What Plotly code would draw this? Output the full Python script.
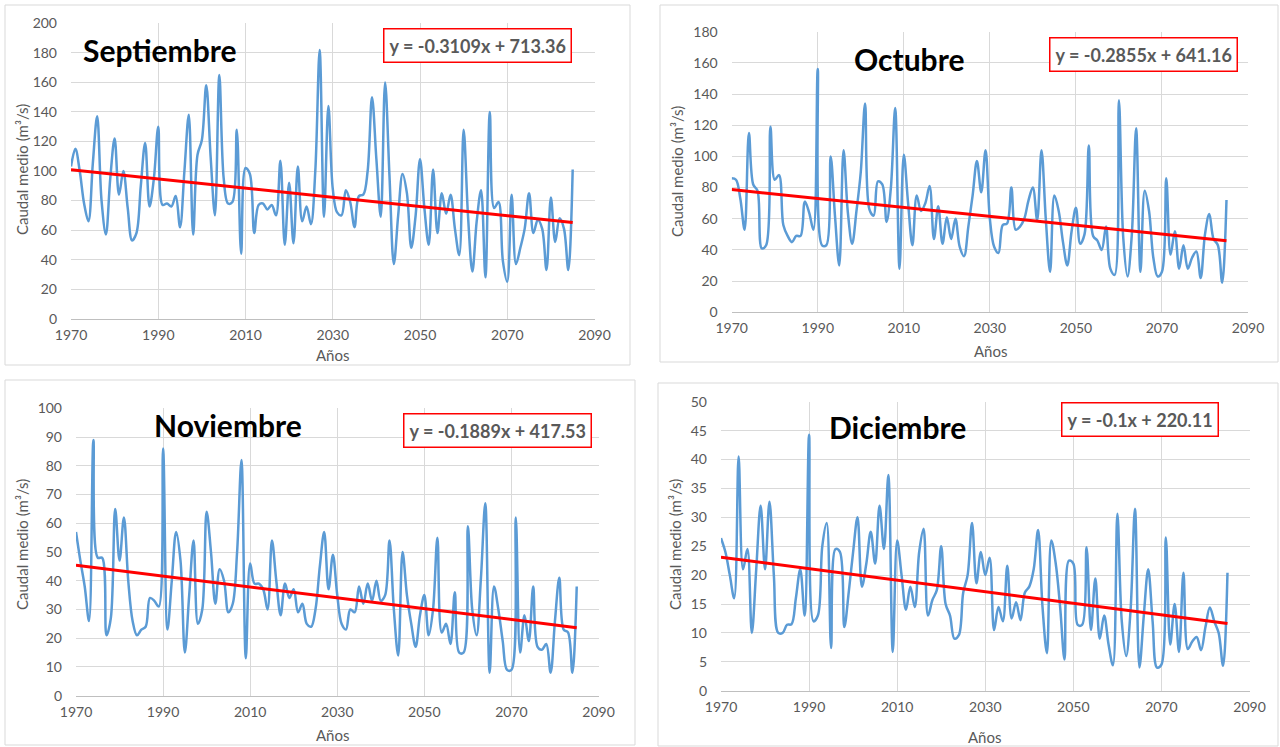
import plotly.graph_objects as go

W, H = 1280, 747

years = list(range(1970, 2086))

sep = [103, 115, 100, 78, 66, 105, 137, 80, 57, 95,
       122, 84, 100, 75, 53, 58, 90, 119, 76, 95,
       130, 77, 78, 76, 83, 62, 100, 138, 57, 111,
       121, 158, 110, 70, 165, 95, 78, 79, 128, 44,
       102, 98, 58, 77, 78, 74, 77, 70, 107, 50,
       92, 51, 103, 66, 76, 64, 100, 182, 69, 144,
       88, 72, 70, 87, 79, 62, 83, 84, 100, 150,
       108, 69, 160, 97, 37, 70, 98, 85, 48, 70,
       108, 75, 50, 101, 58, 85, 71, 84, 61, 43,
       128, 70, 32, 66, 87, 28, 140, 75, 79, 39,
       25, 84, 37, 48, 61, 85, 58, 67, 61, 33,
       82, 52, 68, 61, 33, 101]

octu = [86, 85, 73, 53, 115, 82, 78, 41, 43, 119,
        85, 88, 56, 49, 45, 49, 49, 71, 64, 53,
        156, 43, 43, 100, 62, 30, 104, 64, 44, 65,
        90, 134, 66, 62, 84, 82, 58, 80, 131, 28,
        101, 70, 43, 75, 65, 70, 81, 47, 68, 44,
        61, 47, 60, 42, 36, 55, 75, 97, 77, 104,
        60, 42, 38, 56, 57, 80, 53, 55, 60, 72,
        80, 59, 104, 60, 26, 75, 65, 45, 30, 52,
        67, 44, 50, 107, 49, 46, 40, 55, 28, 24,
        136, 48, 23, 50, 118, 26, 78, 65, 35, 23,
        26, 86, 37, 52, 28, 43, 28, 35, 39, 22,
        50, 63, 47, 43, 19, 72]

nov = [57, 47, 38, 26, 89, 48, 48, 21, 27, 65,
       47, 62, 40, 26, 21, 23, 24, 34, 33, 31,
       86, 23, 40, 57, 47, 15, 35, 54, 25, 30,
       64, 50, 32, 44, 40, 29, 32, 50, 82, 13,
       46, 39, 39, 37, 30, 54, 40, 28, 39, 34,
       37, 29, 32, 25, 24, 30, 45, 57, 37, 49,
       35, 25, 23, 30, 29, 38, 32, 39, 33, 40,
       33, 35, 54, 30, 14, 50, 35, 25, 17, 28,
       35, 21, 30, 55, 22, 25, 18, 36, 15, 15,
       59, 30, 21, 41, 67, 8, 38, 30, 19, 9,
       9, 62, 15, 28, 19, 38, 17, 16, 18, 8,
       26, 41, 23, 22, 8, 38]

dic = [26.4, 24, 20, 16, 40.5, 21, 24.5, 10, 21, 32,
       21, 32.7, 20, 10, 10, 11.4, 11.5, 16, 21, 13,
       44.3, 12, 13, 25, 29, 7.4, 24.5, 24, 11, 17,
       24, 30, 18, 22, 27.5, 22, 32, 24.5, 37.3, 6.7,
       26, 20, 14, 18, 14.5, 24, 28, 13, 15.7, 17.4,
       25, 15, 13, 9, 9.6, 17, 20, 29, 18.6, 24,
       20, 23, 10.5, 14.5, 12, 21.6, 12.5, 15.3, 12.2, 17,
       18, 21, 27.8, 14.5, 6.5, 26, 22, 14.5, 5.4, 22.5,
       22, 11.4, 11.4, 24.8, 10.5, 19.4, 9, 13, 8, 4.4,
       30.6, 12, 6, 14, 31.5, 4, 13, 21, 12, 4,
       4.5, 26.5, 8, 15, 6.7, 20.4, 7.2, 8.5, 9.3, 7,
       11, 14.4, 12, 10, 4.3, 20.4]

months = ["Septiembre", "Octubre", "Noviembre", "Diciembre"]
series = [sep, octu, nov, dic]
slopes = [-0.3109, -0.2855, -0.1889, -0.1]
intercepts = [713.36, 641.16, 417.53, 220.11]
equations = ["y = -0.3109x + 713.36", "y = -0.2855x + 641.16",
             "y = -0.1889x + 417.53", "y = -0.1x + 220.11"]
y_max = [200, 180, 100, 50]
y_step = [20, 20, 10, 5]
x_ticks = [1970, 1990, 2010, 2030, 2050, 2070, 2090]
y_title = "Caudal medio (m³/s)"
x_title = "Años"

def fx(x):
    return x / W

def fy(y):
    return 1 - y / H

# layout geometry (pixels)
panels = [
    dict(plot=(71, 23.3, 594.5, 318.7), box=(5, 5, 630, 365),
         title=(160, 50), eq=(477, 46), ytx=22, yty=170, xtx=333, xty=355),
    dict(plot=(731.7, 31.7, 1248, 312.3), box=(660, 5, 1278, 362),
         title=(909, 59), eq=(1143, 54), ytx=677, yty=172, xtx=991, xty=351),
    dict(plot=(76, 408.3, 598.5, 695.7), box=(5, 380, 635, 745),
         title=(228, 425), eq=(497, 430), ytx=22, yty=545, xtx=333, xty=735),
    dict(plot=(721, 401.7, 1249.5, 690.7), box=(658, 383, 1278, 746),
         title=(897, 427), eq=(1140, 419), ytx=675, yty=545, xtx=985, xty=737),
]

fig = go.Figure()
shapes = []
annotations = []
layout_axes = {}
FONT = "Lato, Open Sans, sans-serif"
tickfont = dict(family=FONT, size=14, color="#595959")

for i, (name, vals, m, b, eq, ymax, ystep, p) in enumerate(
        zip(months, series, slopes, intercepts, equations, y_max, y_step, panels)):
    n = i + 1
    xa = "x" if n == 1 else f"x{n}"
    ya = "y" if n == 1 else f"y{n}"
    xk = "xaxis" if n == 1 else f"xaxis{n}"
    yk = "yaxis" if n == 1 else f"yaxis{n}"
    x0, y0, x1, y1 = p["plot"]
    layout_axes[xk] = dict(
        domain=[fx(x0), fx(x1)], anchor=ya, range=[1970, 2090],
        tickvals=x_ticks, showgrid=True, gridcolor="#d9d9d9", gridwidth=1,
        showline=True, linecolor="#bfbfbf", linewidth=1, zeroline=False,
        ticks="", tickfont=tickfont, ticklabelstandoff=3, fixedrange=True,
        automargin=False)
    layout_axes[yk] = dict(
        domain=[fy(y1), fy(y0)], anchor=xa, range=[0, ymax],
        dtick=ystep, tick0=0, showgrid=True, gridcolor="#d9d9d9", gridwidth=1,
        showline=False, zeroline=False, ticks="", tickfont=tickfont,
        ticklabelstandoff=13, fixedrange=True, automargin=False)
    fig.add_trace(go.Scatter(
        x=years, y=vals, mode="lines", xaxis=xa, yaxis=ya,
        line=dict(color="#5b9bd5", width=2.5, shape="spline", smoothing=1),
        showlegend=False))
    tx = [years[0], years[-1]]
    fig.add_trace(go.Scatter(
        x=tx, y=[m * t + b for t in tx], mode="lines", xaxis=xa, yaxis=ya,
        line=dict(color="#ff0000", width=3), showlegend=False))
    bx0, by0, bx1, by1 = p["box"]
    shapes.append(dict(type="rect", xref="paper", yref="paper",
                       x0=fx(bx0), x1=fx(bx1), y0=fy(by1), y1=fy(by0),
                       line=dict(color="#d9d9d9", width=1), layer="below"))
    annotations.append(dict(
        text=f"<b>{name}</b>", xref="paper", yref="paper",
        x=fx(p["title"][0]), y=fy(p["title"][1]), showarrow=False,
        xanchor="center", yanchor="middle",
        font=dict(family=FONT, size=30, color="#000000")))
    annotations.append(dict(
        text=f"<b>{eq}</b>", xref="paper", yref="paper",
        x=fx(p["eq"][0]), y=fy(p["eq"][1]), showarrow=False,
        xanchor="center", yanchor="middle", bgcolor="white",
        bordercolor="#ff0000", borderwidth=1.5, borderpad=5,
        font=dict(family=FONT, size=18, color="#595959")))
    annotations.append(dict(
        text=y_title, xref="paper", yref="paper", textangle=-90,
        x=fx(p["ytx"]), y=fy(p["yty"]), showarrow=False,
        xanchor="center", yanchor="middle",
        font=dict(family=FONT, size=15, color="#595959")))
    annotations.append(dict(
        text=x_title, xref="paper", yref="paper",
        x=fx(p["xtx"]), y=fy(p["xty"]), showarrow=False,
        xanchor="center", yanchor="middle",
        font=dict(family=FONT, size=15, color="#595959")))

fig.update_layout(
    width=W, height=H, margin=dict(l=0, r=0, t=0, b=0),
    paper_bgcolor="white", plot_bgcolor="white",
    shapes=shapes, annotations=annotations, **layout_axes)

fig.write_html("out.html", config={"displayModeBar": False},
               post_script="document.body.style.margin='0';document.body.style.overflow='hidden';")
